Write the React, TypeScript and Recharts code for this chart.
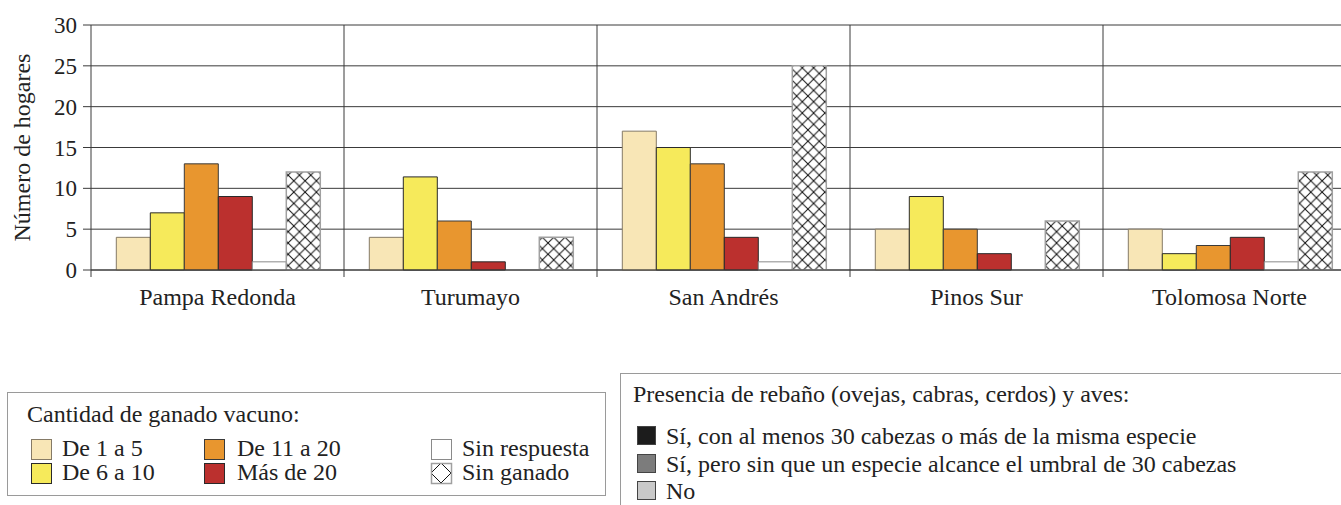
import React from 'react';
import { BarChart, Bar, XAxis, YAxis, CartesianGrid } from 'recharts';

const categories = ['Pampa Redonda', 'Turumayo', 'San Andrés', 'Pinos Sur', 'Tolomosa Norte'];
const de1a5 = [4, 4, 17, 5, 5];
const de6a10 = [7, 11.4, 15, 9, 2];
const de11a20 = [13, 6, 13, 5, 3];
const masDe20 = [9, 1, 4, 2, 4];
const sinRespuesta = [1, 0, 1, 0, 1];
const sinGanado = [12, 4, 25, 6, 12];
const yTicks = [0, 5, 10, 15, 20, 25, 30];

const seriesLabels = ['De 1 a 5', 'De 6 a 10', 'De 11 a 20', 'Más de 20', 'Sin respuesta', 'Sin ganado'];
const legendTitle = 'Cantidad de ganado vacuno:';
const rebanoTitle = 'Presencia de rebaño (ovejas, cabras, cerdos) y aves:';
const rebanoLabels = [
  'Sí, con al menos 30 cabezas o más de la misma especie',
  'Sí, pero sin que un especie alcance el umbral de 30 cabezas',
  'No',
];
const rebanoColors = ['#1c1c1c', '#7c7c7c', '#c9c9c9'];

const seriesStyles = [
  { key: 'a', fill: '#F8E6B6', stroke: '#857a66' },
  { key: 'b', fill: '#F6EA5B', stroke: '#2a2a2a' },
  { key: 'c', fill: '#E8962F', stroke: '#3a3a3a' },
  { key: 'd', fill: '#BB302E', stroke: '#2a2a2a' },
  { key: 'e', fill: '#ffffff', stroke: '#8a8a8a' },
  { key: 'f', fill: 'url(#hatchSG)', stroke: '#a0a0a0' },
];

const data = categories.map((name, i) => ({
  name,
  a: de1a5[i],
  b: de6a10[i],
  c: de11a20[i],
  d: masDe20[i],
  e: sinRespuesta[i],
  f: sinGanado[i],
}));

const FONT = 'Liberation Serif, DejaVu Serif, serif';
const CHART_W = 1360;
const CHART_H = 330;
const MARGIN = { top: 25, right: 4, bottom: 20, left: 0 };
const Y_W = 91;
const BAND = (CHART_W - MARGIN.right - MARGIN.left - Y_W) / categories.length;
const LINE = '#3a3a3a';

const XTick = (props: any) => {
  const { x, y, payload } = props;
  return (
    <g>
      <line x1={x - BAND / 2} x2={x - BAND / 2} y1={y - 7} y2={y} stroke={LINE} strokeWidth={1} />
      <text x={x} y={y} dy={28} textAnchor="middle" style={{ fontFamily: FONT }} fontSize={24} fill="#222">
        {payload.value}
      </text>
    </g>
  );
};

const YLabel = (props: any) => {
  const vb = props.viewBox || { x: 0, y: MARGIN.top, height: CHART_H - MARGIN.top - MARGIN.bottom - 40 };
  const cx = 30;
  const cy = vb.y + vb.height / 2;
  return (
    <text
      x={cx}
      y={cy}
      transform={`rotate(-90 ${cx} ${cy})`}
      textAnchor="middle"
      style={{ fontFamily: FONT }}
      fontSize={24}
      fill="#222"
    >
      Número de hogares
    </text>
  );
};

const leftSwatchX = [31, 204, 431];
const leftTextX = [62, 237, 462];
const leftRowY = [439, 463];
const rightRowY = [426, 454, 481];

export default function App() {
  return (
    <div
      style={{
        position: 'absolute',
        left: 0,
        top: 0,
        width: 1341,
        height: 505,
        overflow: 'hidden',
        background: '#fff',
        fontFamily: FONT,
      }}
    >
      <svg width={0} height={0} style={{ position: 'absolute' }}>
        <defs>
          <pattern id="hatchSG" patternUnits="userSpaceOnUse" width={11.3} height={11.3}>
            <rect width={11.3} height={11.3} fill="#fff" />
            <line x1={0} y1={0} x2={11.3} y2={11.3} stroke="#111" strokeWidth={1} />
            <line x1={11.3} y1={0} x2={0} y2={11.3} stroke="#111" strokeWidth={1} />
          </pattern>
          <pattern id="hatchLeg" patternUnits="userSpaceOnUse" x={431} y={463} width={20} height={20}>
            <rect width={20} height={20} fill="#fff" />
            <line x1={0} y1={10} x2={10} y2={0} stroke="#111" strokeWidth={1} />
            <line x1={10} y1={0} x2={20} y2={10} stroke="#111" strokeWidth={1} />
            <line x1={20} y1={10} x2={10} y2={20} stroke="#111" strokeWidth={1} />
            <line x1={10} y1={20} x2={0} y2={10} stroke="#111" strokeWidth={1} />
          </pattern>
        </defs>
      </svg>
      <div style={{ position: 'absolute', left: 0, top: 0 }}>
        <BarChart
          width={CHART_W}
          height={CHART_H}
          data={data}
          margin={MARGIN}
          barCategoryGap="10%"
          barGap={0}
          style={{ fontFamily: FONT }}
        >
          <CartesianGrid
            stroke={LINE}
            strokeWidth={1}
            horizontal={true}
            vertical={true}
            verticalCoordinatesGenerator={({ offset }: any) =>
              categories.slice(1).map((_, i) => offset.left + ((i + 1) * offset.width) / categories.length)
            }
          />
          <XAxis
            dataKey="name"
            height={40}
            interval={0}
            tickLine={false}
            tickSize={7}
            tickMargin={0}
            axisLine={{ stroke: LINE }}
            tick={<XTick />}
          />
          <YAxis
            width={Y_W}
            domain={[0, 30]}
            ticks={yTicks}
            interval={0}
            tickSize={8}
            tickMargin={6}
            tickLine={{ stroke: LINE }}
            axisLine={{ stroke: LINE }}
            tick={{ style: { fontFamily: FONT }, fontSize: 23, fill: '#222' }}
            label={{ content: <YLabel /> }}
          />
          {seriesStyles.map((s, i) => (
            <Bar
              key={s.key}
              dataKey={s.key}
              name={seriesLabels[i]}
              fill={s.fill}
              stroke={s.stroke}
              strokeWidth={i === 5 ? 1.5 : 1}
              isAnimationActive={false}
            />
          ))}
        </BarChart>
      </div>
      <svg width={1341} height={505} style={{ position: 'absolute', left: 0, top: 0, fontFamily: FONT }}>
        <rect x={7.5} y={392.5} width={598} height={103} fill="none" stroke="#9a9a9a" strokeWidth={1} />
        <text x={27} y={422} fontSize={24} fill="#222">
          {legendTitle}
        </text>
        {seriesStyles.map((s, i) => {
          const col = Math.floor(i / 2);
          const row = i % 2;
          const sx = leftSwatchX[col];
          const sy = leftRowY[row];
          return (
            <g key={s.key}>
              <rect
                x={sx + 0.5}
                y={sy + 0.5}
                width={20}
                height={20}
                fill={i === 5 ? 'url(#hatchLeg)' : s.fill}
                stroke={i === 5 ? '#a0a0a0' : s.stroke}
                strokeWidth={i === 5 ? 1.5 : 1}
              />
              <text x={leftTextX[col]} y={sy + 17} fontSize={24} fill="#222">
                {seriesLabels[i]}
              </text>
            </g>
          );
        })}
        <rect x={620.5} y={373.5} width={800} height={200} fill="none" stroke="#9a9a9a" strokeWidth={1} />
        <text x={633} y={402} fontSize={24} fill="#222">
          {rebanoTitle}
        </text>
        {rebanoLabels.map((lab, i) => {
          const sy = rightRowY[i];
          return (
            <g key={lab}>
              <rect x={637.5} y={sy + 0.5} width={18} height={18} fill={rebanoColors[i]} stroke="#444" strokeWidth={1} />
              <text x={666} y={sy + 18} fontSize={24} fill="#222">
                {lab}
              </text>
            </g>
          );
        })}
      </svg>
    </div>
  );
}
